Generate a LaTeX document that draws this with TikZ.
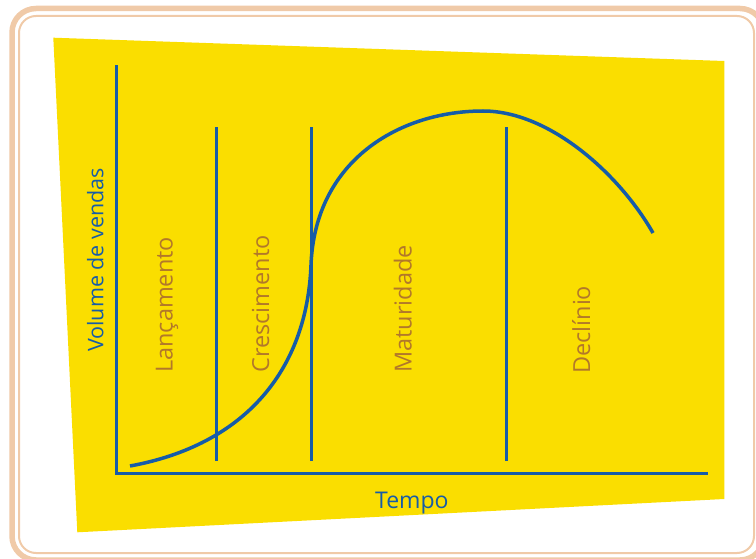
\documentclass[tikz,border=0pt]{standalone}
\usepackage{fontspec}
\setmainfont{Open Sans}
\definecolor{frametan}{RGB}{240,202,168}
\definecolor{bgyellow}{RGB}{250,222,0}
\definecolor{lineblue}{RGB}{22,92,168}
\definecolor{labelbrown}{RGB}{178,120,42}
\tikzset{
  framethick/.style={draw=frametan,line width=5.5pt,rounded corners=24pt},
  framethin/.style={draw=frametan,line width=2pt,rounded corners=17pt},
  axisline/.style={draw=lineblue,line width=3.5pt},
  phaseline/.style={draw=lineblue,line width=3pt},
  curveline/.style={draw=lineblue,line width=3.5pt},
  phaselabel/.style={rotate=90,anchor=base west,inner sep=0pt,text=labelbrown,font=\fontsize{23.5}{28}\selectfont},
  axislabel/.style={inner sep=0pt,text=lineblue,font=\fontsize{23}{28}\selectfont}
}
\begin{document}
\begin{tikzpicture}[x=1pt,y=-1pt]
\useasboundingbox (0,0) rectangle (756,559);
% frame
\draw[framethick] (12,8.5) rectangle (764,560);
\draw[framethin] (19,16) rectangle (754,553);
% yellow panel
\fill[bgyellow] (53.3,37.7) -- (724.3,61) -- (724.3,499) -- (77.3,532.3) -- cycle;
% axes
\coordinate (ytop) at (116.5,65.5);
\coordinate (origin) at (116.5,473.3);
\coordinate (xend) at (707.7,473.3);
\draw[axisline] (ytop) -- (origin) -- (xend);
% phase lines
\foreach \n/\x in {a/216,b/311.5,c/506}{
  \coordinate (\n top) at (\x,127.3);
  \coordinate (\n bot) at (\x,460.5);
  \draw[phaseline] (\n top) -- (\n bot);
}
% curve
\coordinate (c0) at (130,466);
\coordinate (c1) at (311,265);
\coordinate (c2) at (483,111);
\coordinate (c3) at (653,233);
\draw[curveline] (c0) .. controls (245,445) and (307,370) .. (c1)
  .. controls (315,160) and (400,111) .. (c2)
  .. controls (550,111) and (620,175) .. (c3);
% labels
\node[phaselabel] (lanc) at (172.7,373) {Lançamento};
\node[phaselabel] (cresc) at (269,373) {Crescimento};
\node[phaselabel] (mat) at (411.7,373) {Maturidade};
\node[phaselabel] (decl) at (590,374) {Declínio};
\node[axislabel,rotate=90,anchor=base west,font=\fontsize{21.5}{26}\selectfont] (vol) at (103.3,352) {Volume de vendas};
\node[axislabel,anchor=base west] (tempo) at (375,508.3) {Tempo};
\end{tikzpicture}
\end{document}
